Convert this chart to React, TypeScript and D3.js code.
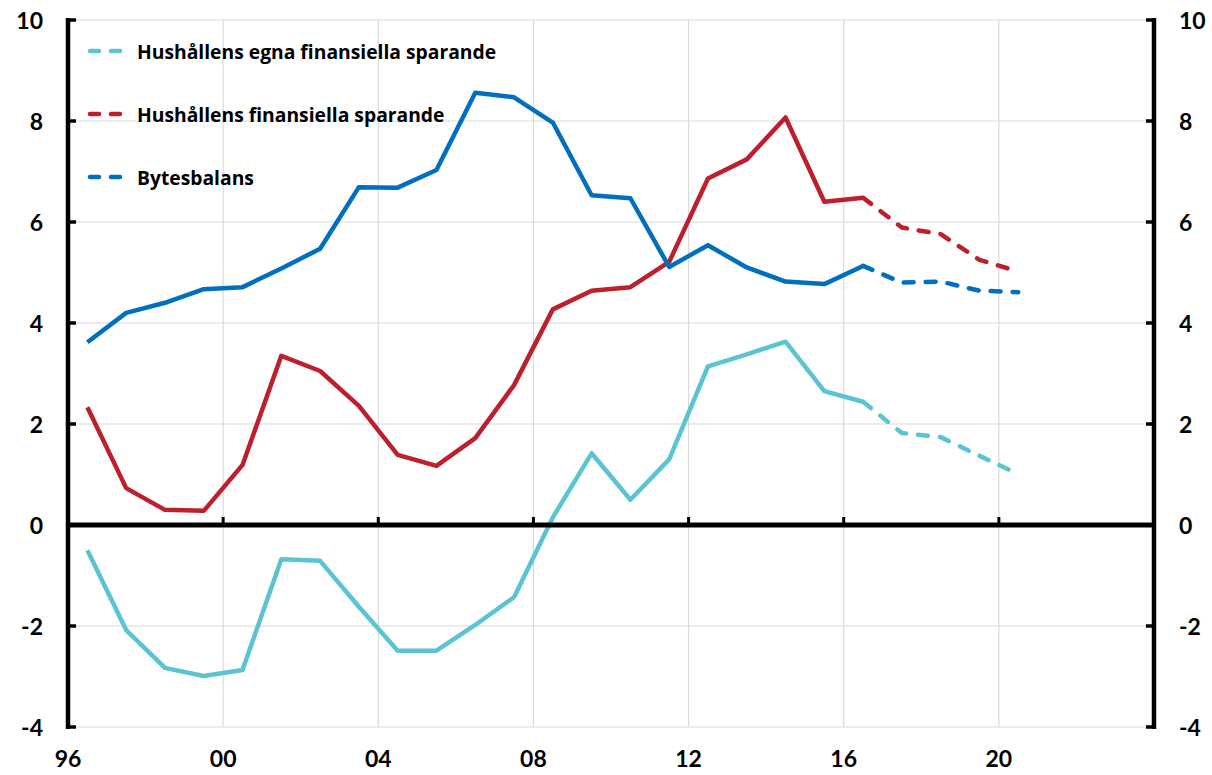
import React from 'react';
import * as d3 from 'd3';

const years = [
  1996.5, 1997.5, 1998.5, 1999.5, 2000.5, 2001.5, 2002.5, 2003.5, 2004.5,
  2005.5, 2006.5, 2007.5, 2008.5, 2009.5, 2010.5, 2011.5, 2012.5, 2013.5,
  2014.5, 2015.5, 2016.5, 2017.5, 2018.5, 2019.5, 2020.5,
];
const bytesbalans = [
  3.62, 4.2, 4.4, 4.67, 4.71, 5.08, 5.47, 6.69, 6.68, 7.03, 8.56, 8.47, 7.97,
  6.53, 6.47, 5.11, 5.54, 5.1, 4.82, 4.77, 5.13, 4.8, 4.82, 4.64, 4.61,
];
const finansiella = [
  2.33, 0.73, 0.3, 0.28, 1.19, 3.35, 3.05, 2.36, 1.39, 1.17, 1.72, 2.77, 4.27,
  4.64, 4.71, 5.21, 6.86, 7.24, 8.07, 6.4, 6.48, 5.89, 5.76, 5.25, 5.02,
];
const egna = [
  -0.5, -2.08, -2.83, -2.99, -2.87, -0.68, -0.71, -1.62, -2.49, -2.49, -1.98,
  -1.43, 0.15, 1.42, 0.5, 1.3, 3.14, 3.38, 3.63, 2.65, 2.44, 1.82, 1.74, 1.37,
  1.01,
];
const forecastStart = 2016.5;
const yTicks = [-4, -2, 0, 2, 4, 6, 8, 10];
const xTickYears = [1996, 2000, 2004, 2008, 2012, 2016, 2020, 2024];
const xTickLabels = ['96', '00', '04', '08', '12', '16', '20', ''];
const seriesNames = [
  'Hushållens egna finansiella sparande',
  'Hushållens finansiella sparande',
  'Bytesbalans',
];
const colors = ['#5BC4D2', '#BD1F2D', '#0070BE'];

const W = 1212;
const H = 775;
const left = 68;
const right = 1154;
const top = 20;
const bottom = 727;
const FONT = 'Lato, "Open Sans", sans-serif';
const LEGEND_FONT = '"Open Sans", Lato, sans-serif';

export default function App() {
  const x = d3.scaleLinear().domain([1996, 2024]).range([left, right]);
  const y = d3.scaleLinear().domain([-4, 10]).range([bottom, top]);
  const line = d3
    .line<[number, number]>()
    .x((d) => x(d[0]))
    .y((d) => y(d[1]));

  const series = [egna, finansiella, bytesbalans];
  const paths = series.map((vals, i) => {
    const pts: [number, number][] = years.map((yr, j) => [yr, vals[j]]);
    const solid = pts.filter((p) => p[0] <= forecastStart);
    const dashed = pts.filter((p) => p[0] >= forecastStart);
    return { solid: line(solid) || '', dashed: line(dashed) || '', color: colors[i] };
  });

  return (
    <svg
      width={W}
      height={H}
      style={{ position: 'absolute', left: 0, top: 0, background: '#fff' }}
      fontFamily={FONT}
    >
      {/* gridlines */}
      {yTicks.map((t) => (
        <line key={'gy' + t} x1={left} x2={right} y1={y(t)} y2={y(t)} stroke="#d9d9d9" strokeWidth={1.2} />
      ))}
      {xTickYears.slice(1).map((t) => (
        <line key={'gx' + t} x1={x(t)} x2={x(t)} y1={top} y2={bottom} stroke="#d9d9d9" strokeWidth={1.2} />
      ))}

      {/* series */}
      {paths.map((p, i) => (
        <g key={'s' + i}>
          <path d={p.solid} fill="none" stroke={p.color} strokeWidth={4.5} strokeLinejoin="round" />
          <path
            d={p.dashed}
            fill="none"
            stroke={p.color}
            strokeWidth={4.5}
            strokeLinecap="round"
            strokeLinejoin="round"
            strokeDasharray="10 12"
          />
        </g>
      ))}

      {/* zero line */}
      <line x1={left} x2={right} y1={y(0)} y2={y(0)} stroke="#000" strokeWidth={5} />
      {xTickYears.slice(1, -1).map((t) => (
        <line key={'zt' + t} x1={x(t)} x2={x(t)} y1={y(0) - 8} y2={y(0)} stroke="#000" strokeWidth={3} />
      ))}

      {/* left axis */}
      <line x1={left} x2={left} y1={top - 2} y2={bottom + 2} stroke="#000" strokeWidth={4.5} />
      {yTicks.map((t) => (
        <line key={'lt' + t} x1={left} x2={left + 8} y1={y(t)} y2={y(t)} stroke="#000" strokeWidth={3.5} />
      ))}
      {/* right axis */}
      <line x1={right} x2={right} y1={top - 2} y2={bottom + 2} stroke="#000" strokeWidth={4.5} />
      {yTicks.map((t) => (
        <line key={'rt' + t} x1={right - 8} x2={right} y1={y(t)} y2={y(t)} stroke="#000" strokeWidth={3.5} />
      ))}

      {/* y labels */}
      {yTicks.map((t) => (
        <text
          key={'ll' + t}
          x={43}
          y={y(t)}
          textAnchor="end"
          dominantBaseline="central"
          fontSize={23}
          fontWeight="bold"
        >
          {t}
        </text>
      ))}
      {yTicks.map((t) => (
        <text
          key={'rl' + t}
          x={1179}
          y={y(t)}
          textAnchor="start"
          dominantBaseline="central"
          fontSize={23}
          fontWeight="bold"
        >
          {t}
        </text>
      ))}

      {/* x labels */}
      {xTickYears.map((t, i) => (
        <text
          key={'xl' + t}
          x={x(t)}
          y={758}
          textAnchor="middle"
          dominantBaseline="central"
          fontSize={23}
          fontWeight="bold"
        >
          {xTickLabels[i]}
        </text>
      ))}

      {/* legend */}
      {seriesNames.map((name, i) => {
        const ly = [51, 114, 177][i];
        return (
          <g key={'lg' + i}>
            <line
              x1={90}
              x2={132}
              y1={ly}
              y2={ly}
              stroke={colors[i]}
              strokeWidth={4.5}
              strokeLinecap="round"
              strokeDasharray="9 12"
            />
            <text
              x={137}
              y={ly}
              dominantBaseline="central"
              fontSize={19.3}
              fontWeight="bold"
              fontFamily={LEGEND_FONT}
            >
              {name}
            </text>
          </g>
        );
      })}
    </svg>
  );
}
